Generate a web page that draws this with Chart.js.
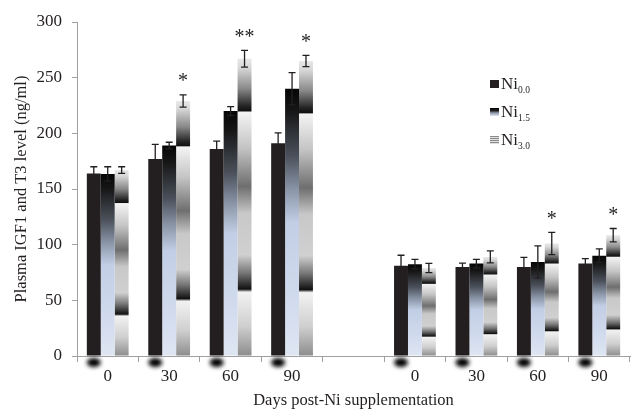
<!DOCTYPE html>
<html>
<head>
<meta charset="utf-8">
<script src="https://cdn.jsdelivr.net/npm/chart.js@4.4.0/dist/chart.umd.min.js"></script>
<style>
  html, body { margin: 0; padding: 0; background: #fff; }
  #wrap { position: relative; width: 636px; height: 412px; }
  #legend { position: absolute; left: 490px; top: 74px; font-family: 'Liberation Serif', serif; color: #231f20; }
  .item { position: relative; height: 28px; font-size: 17px; line-height: 20px; white-space: nowrap; }
  .sw { display: inline-block; width: 9px; height: 8px; margin-right: 2px; vertical-align: 1px; }
  .item sub { font-size: 9.5px; vertical-align: -4px; }
</style>
</head>
<body>
<div id="wrap">
  <canvas id="chart" width="636" height="412"></canvas>
  <div id="legend">
    <div class="item"><span class="sw" style="background:#231f20"></span>Ni<sub>0.0</sub></div>
    <div class="item"><span class="sw" style="background:linear-gradient(#000 0%, #222 35%, #8b96a8 60%, #dfe6f3 100%)"></span>Ni<sub>1.5</sub></div>
    <div class="item"><span class="sw" style="background:repeating-linear-gradient(#8a8a8a 0px, #8a8a8a 1px, #e0e0e0 1px, #e0e0e0 2px)"></span>Ni<sub>3.0</sub></div>
  </div>
</div>
<script>
// data
const labels = ['0', '30', '60', '90', '', '0', '30', '60', '90'];
const ni00 = [164, 177, 186, 191, null, 81, 80, 80, 83];
const ni15 = [163.5, 189, 220, 240, null, 82.5, 83, 84.5, 90];
const ni30 = [167, 229, 267, 265, null, 79, 89, 101, 108.5];
const ni00Err = [6, 13, 7, 9.5, null, 9.5, 3.5, 8.5, 4.5];
const ni15Err = [6.5, 3, 4, 14.5, null, 4.3, 3.8, 14.5, 6.2];
const ni30Err = [3, 5.5, 7.5, 5, null, 4.2, 5.4, 10, 6];
const ni30Marks = ['', '*', '**', '*', '', '', '', '*', '*'];
const yTicks = [0, 50, 100, 150, 200, 250, 300];

// fill styles
const ink = '#231f20';
const serif = 'Liberation Serif';
const ni15Stops = [[0, '#050505'], [0.08, '#161616'], [0.25, '#4a505a'], [0.38, '#8b96a8'],
  [0.5, '#c2cee5'], [0.75, '#cfd9ec'], [1, '#dfe6f3']];
const ni30Stops = [[0, '#e8e8e8'], [0.03, '#d8d8d8'], [0.1, '#8a8a8a'], [0.16, '#222'], [0.175, '#111'],
  [0.18, '#f4f4f4'], [0.3, '#c4c4c4'], [0.43, '#6e6e6e'], [0.52, '#c8c8c8'], [0.66, '#d0d0d0'],
  [0.72, '#777'], [0.775, '#111'], [0.785, '#f2f2f2'], [0.9, '#cfcfcf'], [1, '#8c8c8c']];

function barGradient(c, stops) {
  const chart = c.chart;
  const y = chart.scales.y;
  if (!y || c.raw == null) return '#888';
  const top = y.getPixelForValue(c.raw);
  const bottom = y.getPixelForValue(0);
  if (!isFinite(top) || !isFinite(bottom) || top === bottom) return '#888';
  const g = chart.ctx.createLinearGradient(0, top, 0, bottom);
  stops.forEach(s => g.addColorStop(s[0], s[1]));
  return g;
}

// error bars, asterisks and the dark smudges under the axis
const extras = {
  id: 'extras',
  afterDatasetsDraw(chart) {
    const ctx = chart.ctx;
    const y = chart.scales.y;
    const base = y.getPixelForValue(0);

    // smudges under first series
    chart.getDatasetMeta(0).data.forEach((bar, i) => {
      if (ni00[i] == null) return;
      ctx.save();
      ctx.filter = 'blur(2px)';
      ctx.fillStyle = '#000';
      ctx.beginPath();
      ctx.ellipse(bar.x, base + 6.5, bar.width / 2, 4.5, 0, 0, Math.PI * 2);
      ctx.fill();
      ctx.restore();
    });

    ctx.save();
    ctx.strokeStyle = ink;
    ctx.lineWidth = 1.3;
    chart.data.datasets.forEach((ds, d) => {
      chart.getDatasetMeta(d).data.forEach((bar, i) => {
        const v = ds.data[i];
        const e = ds.errors[i];
        if (v == null || e == null) return;
        const hi = y.getPixelForValue(v + e);
        const lo = y.getPixelForValue(v - e);
        ctx.beginPath();
        ctx.moveTo(bar.x, hi); ctx.lineTo(bar.x, lo);
        ctx.moveTo(bar.x - 3.5, hi); ctx.lineTo(bar.x + 3.5, hi);
        ctx.moveTo(bar.x - 3.5, lo); ctx.lineTo(bar.x + 3.5, lo);
        ctx.stroke();
      });
    });

    ctx.fillStyle = ink;
    ctx.font = '20px "' + serif + '"';
    ctx.textAlign = 'center';
    ctx.textBaseline = 'middle';
    chart.getDatasetMeta(2).data.forEach((bar, i) => {
      if (!ni30Marks[i]) return;
      const hi = y.getPixelForValue(ni30[i] + ni30Err[i]);
      ctx.fillText(ni30Marks[i], bar.x, hi - 13);
    });
    ctx.restore();
  }
};

const ctx = document.getElementById('chart').getContext('2d');
const chart = new Chart(ctx, {
  type: 'bar',
  data: {
    labels: labels,
    datasets: [
      { label: 'Ni0.0', data: ni00, errors: ni00Err, backgroundColor: ink },
      { label: 'Ni1.5', data: ni15, errors: ni15Err, backgroundColor: c => barGradient(c, ni15Stops) },
      { label: 'Ni3.0', data: ni30, errors: ni30Err, backgroundColor: c => barGradient(c, ni30Stops) }
    ]
  },
  options: {
    responsive: false,
    animation: false,
    layout: { padding: { top: 22, right: 6, left: 0, bottom: 0 } },
    datasets: { bar: { categoryPercentage: 0.68, barPercentage: 1, borderWidth: 0 } },
    scales: {
      x: {
        grid: { display: true, drawOnChartArea: false, tickLength: 6, color: '#a0a0a0' },
        border: { color: '#a0a0a0' },
        ticks: { color: ink, font: { family: serif, size: 17 }, padding: 4, maxRotation: 0, autoSkip: false },
        title: { display: true, text: 'Days post-Ni supplementation', color: ink,
          font: { family: serif, size: 16.5 }, padding: { top: 0, bottom: 1 } },
        afterFit: s => { s.height = 56; }
      },
      y: {
        min: 0, max: 300,
        afterBuildTicks: s => { s.ticks = yTicks.map(v => ({ value: v })); },
        grid: { display: true, drawOnChartArea: false, tickLength: 5, color: '#a0a0a0' },
        border: { color: '#a0a0a0' },
        ticks: { color: ink, font: { family: serif, size: 17 }, padding: 10 },
        title: { display: true, text: 'Plasma IGF1 and T3 level (ng/ml)', color: ink,
          font: { family: serif, size: 16.5 }, padding: { top: 12, bottom: 0 } },
        afterFit: s => { s.width = 77; }
      }
    },
    plugins: { legend: { display: false }, tooltip: { enabled: false } }
  },
  plugins: [extras]
});
</script>
</body>
</html>
